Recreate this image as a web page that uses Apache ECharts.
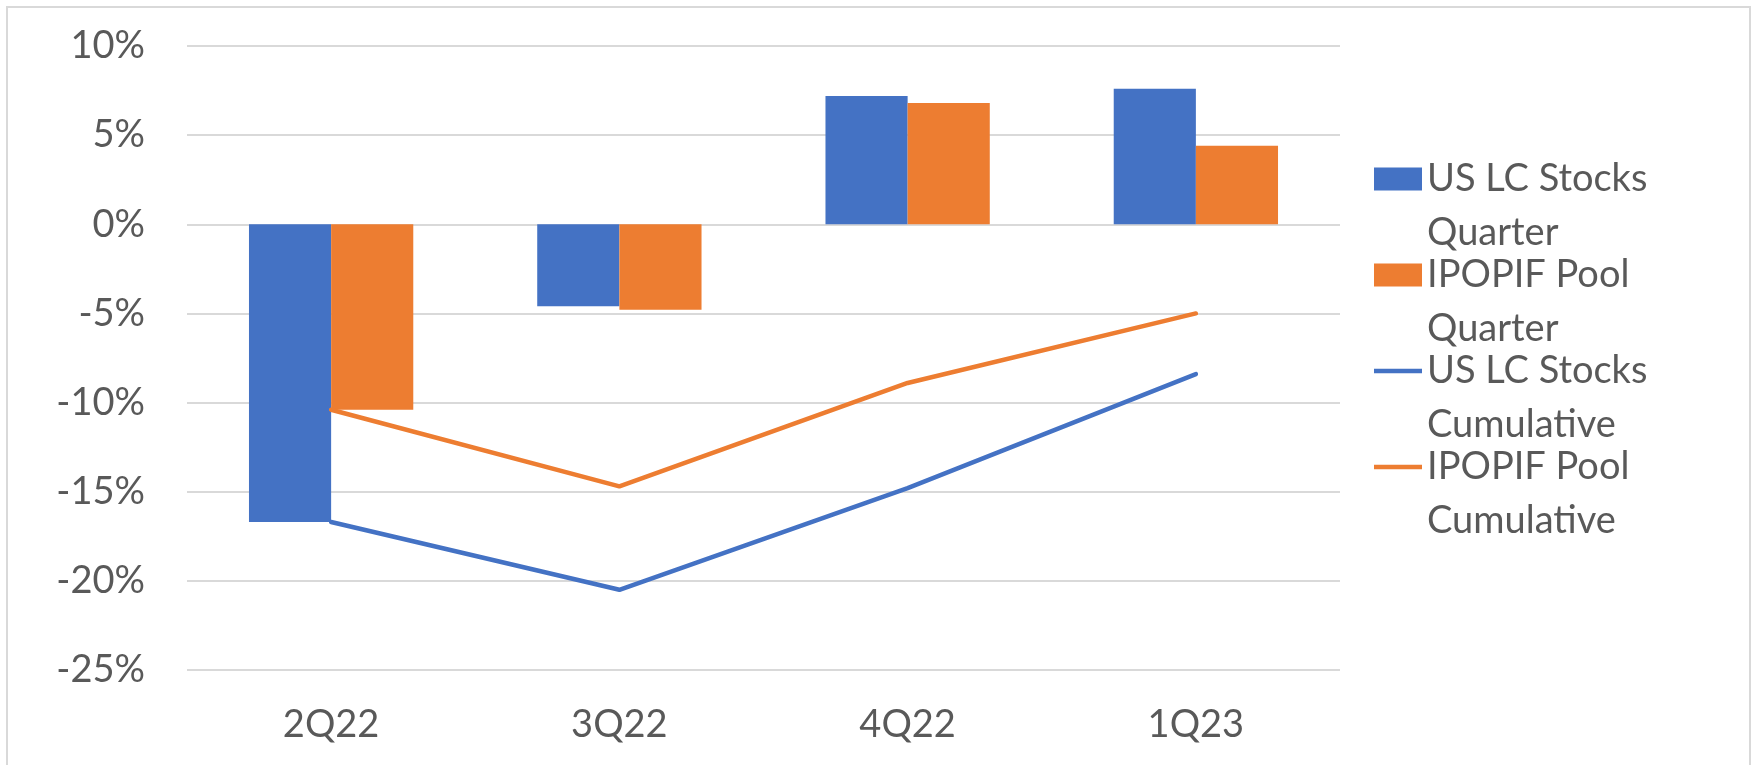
<!DOCTYPE html>
<html>
<head>
<meta charset="utf-8">
<title>US LC Stocks vs IPOPIF Pool</title>
<script src="https://cdn.jsdelivr.net/npm/echarts@6/dist/echarts.min.js"></script>
<style>
  html, body { margin: 0; padding: 0; background: #fff; }
  #chart { width: 1757px; height: 765px; }
</style>
</head>
<body>
<div id="chart"></div>
<script>
// quarters on the x axis
var quarters = ['2Q22', '3Q22', '4Q22', '1Q23']

// quarterly returns (%)
var usLcQuarter = [-16.7, -4.6, 7.2, 7.6]
var ipopifQuarter = [-10.4, -4.8, 6.8, 4.4]

// cumulative returns (%)
var usLcCumulative = [-16.7, -20.5, -14.8, -8.4]
var ipopifCumulative = [-10.4, -14.7, -8.9, -5.0]

var seriesNames = [
  'US LC Stocks Quarter',
  'IPOPIF Pool Quarter',
  'US LC Stocks Cumulative',
  'IPOPIF Pool Cumulative'
]

var BLUE = '#4472C4'
var ORANGE = '#ED7D31'
var TEXT = '#595959'
var GRID = '#D9D9D9'
var FONT = 'Lato'

// thin stripe centred in the 48x23 legend box, used for the line series
var LINE_ICON = 'path://M0,0M48,23M0,9.25h48v4.5h-48z'

var chart = echarts.init(document.getElementById('chart'))

chart.setOption({
  animation: false,
  backgroundColor: '#fff',
  textStyle: { fontFamily: FONT },
  graphic: [{
    type: 'rect',
    shape: { x: 7, y: 7, width: 1743, height: 770 },
    style: { fill: null, stroke: GRID, lineWidth: 2 },
    silent: true
  }],
  grid: {
    left: 187,
    right: 417,
    top: 46,
    bottom: 95
  },
  legend: {
    orient: 'vertical',
    left: 1374,
    top: 98,
    padding: 0,
    itemGap: -66,
    itemWidth: 48,
    itemHeight: 23,
    selectedMode: false,
    data: [
      { name: seriesNames[0], icon: 'rect' },
      { name: seriesNames[1], icon: 'rect' },
      { name: seriesNames[2], icon: LINE_ICON },
      { name: seriesNames[3], icon: LINE_ICON }
    ],
    // leading blank line keeps the first text line level with the icon
    formatter: function (name) {
      return ' \n' + name.replace(/ (Quarter|Cumulative)$/, '\n$1')
    },
    textStyle: {
      fontFamily: FONT,
      fontSize: 38,
      color: TEXT,
      lineHeight: 54
    }
  },
  xAxis: {
    type: 'category',
    data: quarters,
    axisLine: { show: false },
    axisTick: { show: false },
    axisLabel: {
      color: TEXT,
      fontFamily: FONT,
      fontSize: 38,
      margin: 36
    },
    splitLine: { show: false }
  },
  yAxis: {
    type: 'value',
    min: -25,
    max: 10,
    interval: 5,
    axisLine: { show: false },
    axisTick: { show: false },
    axisLabel: {
      color: TEXT,
      fontFamily: FONT,
      fontSize: 38,
      margin: 42,
      formatter: '{value}%'
    },
    splitLine: { lineStyle: { color: GRID, width: 2 } }
  },
  series: [
    {
      name: seriesNames[0],
      type: 'bar',
      data: usLcQuarter,
      barGap: '0%',
      barCategoryGap: '43%',
      itemStyle: { color: BLUE }
    },
    {
      name: seriesNames[1],
      type: 'bar',
      data: ipopifQuarter,
      barGap: '0%',
      barCategoryGap: '43%',
      itemStyle: { color: ORANGE }
    },
    {
      name: seriesNames[2],
      type: 'line',
      data: usLcCumulative,
      symbol: 'none',
      showSymbol: false,
      itemStyle: { color: BLUE },
      lineStyle: { color: BLUE, width: 4.5, cap: 'round' }
    },
    {
      name: seriesNames[3],
      type: 'line',
      data: ipopifCumulative,
      symbol: 'none',
      showSymbol: false,
      itemStyle: { color: ORANGE },
      lineStyle: { color: ORANGE, width: 4.5, cap: 'round' }
    }
  ]
})
</script>
</body>
</html>
